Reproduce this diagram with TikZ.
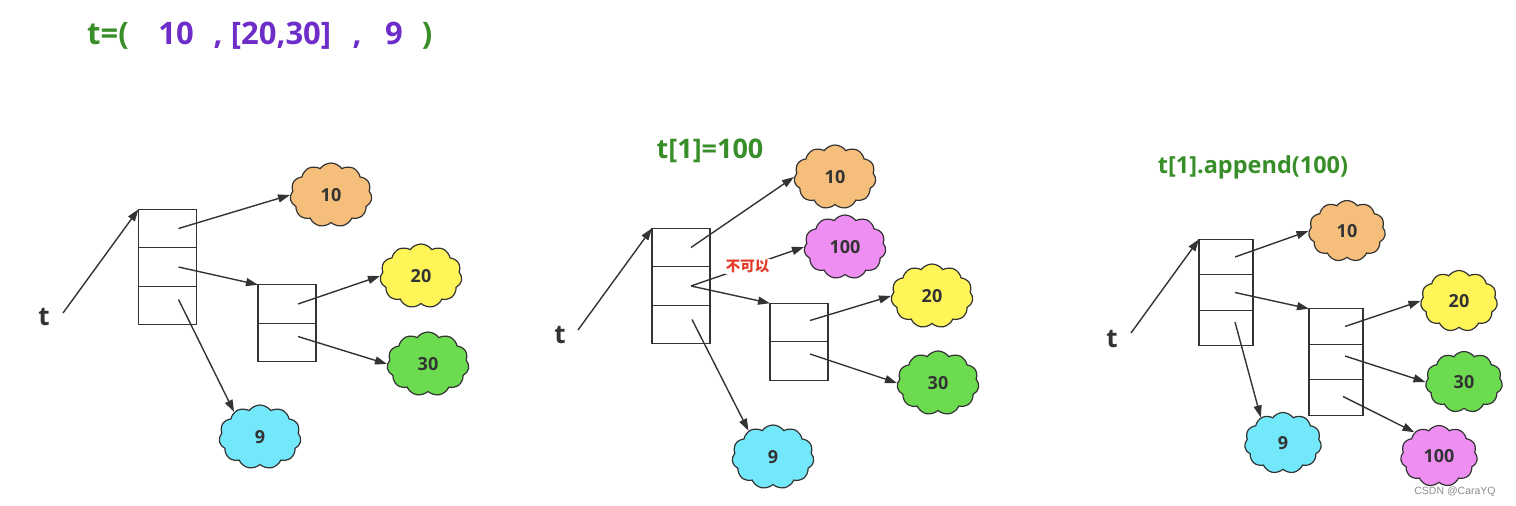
\documentclass[tikz,border=0pt]{standalone}
\usepackage{fontspec}
\setmainfont{Open Sans}
\newfontfamily\cjk{Noto Sans CJK SC}
\newfontfamily\wmfont{Liberation Sans}
\usepackage{tikz}
\usetikzlibrary{positioning,shapes.symbols,arrows.meta}

\definecolor{ink}{RGB}{51,51,51}
\definecolor{grn}{RGB}{56,142,40}
\definecolor{pur}{RGB}{110,45,200}
\definecolor{warn}{RGB}{228,60,42}
\definecolor{c10}{RGB}{245,191,123}
\definecolor{c20}{RGB}{255,245,88}
\definecolor{c30}{RGB}{108,219,80}
\definecolor{c9}{RGB}{114,232,250}
\definecolor{c100}{RGB}{239,142,242}

\tikzset{
	cell/.style={draw=ink, line width=1.4pt, minimum width=58pt, minimum height=38.5pt, inner sep=0pt, outer sep=0pt},
	smallcell/.style={cell, minimum width=54pt, minimum height=35.5pt},
	obj/.style={cloud, cloud puffs=11, cloud puff arc=110, aspect=1.3, draw=ink, line width=1.2pt,
		minimum width=82pt, minimum height=64pt, inner sep=0pt, text=ink,
		font=\fontsize{18}{20}\selectfont\bfseries},
	smallobj/.style={obj, minimum width=77pt, minimum height=61pt},
	arr/.style={-{Triangle[length=12pt,width=8pt]}, color=ink, line width=1.4pt},
	ttl/.style={anchor=base, inner sep=0pt, font=\fontsize{31}{36}\selectfont\bfseries},
	sub/.style={anchor=base, inner sep=0pt, text=grn, font=\fontsize{23.5}{27}\selectfont\bfseries},
	var/.style={anchor=base, inner sep=0pt, text=ink, font=\fontsize{26}{30}\selectfont\bfseries},
	nope/.style={fill=white, text=warn, inner sep=1pt, font=\cjk\bfseries\fontsize{14.5}{16}\selectfont},
	wm/.style={text=black!45, inner sep=0pt, font=\wmfont\fontsize{10.5}{12}\selectfont}
}

\begin{document}
\begin{tikzpicture}[x=1pt, y=-1pt]
	\useasboundingbox (0,0) rectangle (1516,506);

	% the tuple
	\node[ttl, text=grn] (q0) at (108,44) {t=(};
	\node[ttl, text=pur] (q1) at (176,44) {10};
	\node[ttl, text=pur] (q2) at (218,44) {,};
	\node[ttl, text=pur] (q3) at (281,44) {[20,30]};
	\node[ttl, text=pur] (q4) at (357,44) {,};
	\node[ttl, text=pur] (q5) at (394,44) {9};
	\node[ttl, text=grn] (q6) at (427,44) {)};

	% left: t as built
	\node[var] (lt) at (44,325) {t};
	\coordinate (ls) at (63,313);
	\node[cell] (la1) at (167.5,228.5) {};
	\node[cell, below=0pt of la1] (la2) {};
	\node[cell, below=0pt of la2] (la3) {};
	\node[cell] (lb1) at (287,304) {};
	\node[cell, below=0pt of lb1] (lb2) {};
	\node[obj, fill=c10] (l10) at (331,195) {10};
	\node[obj, fill=c20] (l20) at (421,276) {20};
	\node[obj, fill=c30] (l30) at (428,364) {30};
	\node[obj, fill=c9] (l9) at (260,437) {9};
	\path[arr]
	(ls) edge (la1.north west)
	([xshift=11pt]la1.center) edge (l10.west)
	([xshift=11pt]la2.center) edge (lb1.north west)
	([xshift=11pt,yshift=6pt]la3.center) edge (l9.136)
	([xshift=11pt]lb1.center) edge (l20.west)
	([xshift=11pt,yshift=6pt]lb2.center) edge (l30.west);

	% middle: t[1]=100
	\node[sub, font=\fontsize{27}{31}\selectfont\bfseries] (mh) at (710,158) {t[1]=100};
	\node[var] (mt) at (560,343) {t};
	\coordinate (ms) at (578,330);
	\node[cell] (ma1) at (681,247.5) {};
	\node[cell, below=0pt of ma1] (ma2) {};
	\node[cell, below=0pt of ma2] (ma3) {};
	\node[cell] (mb1) at (799,322.5) {};
	\node[cell, below=0pt of mb1] (mb2) {};
	\node[obj, fill=c10] (m10) at (835,177) {10};
	\node[obj, fill=c100] (m100) at (845,247) {100};
	\node[obj, fill=c20] (m20) at (932,296) {20};
	\node[obj, fill=c30] (m30) at (938,383) {30};
	\node[obj, fill=c9] (m9) at (773,457) {9};
	\path[arr]
	(ms) edge (ma1.north west)
	([xshift=10pt]ma1.center) edge (m10.west)
	([xshift=10pt]ma2.center) edge node[nope] {不可以} (m100.west)
	([xshift=10pt]ma2.center) edge (mb1.north west)
	([xshift=11pt,yshift=5pt]ma3.center) edge (m9.133)
	([xshift=11pt,yshift=2pt]mb1.center) edge (m20.west)
	([xshift=11pt,yshift=7pt]mb2.center) edge (m30.west);

	% right: t[1].append(100)
	\node[sub] (rh) at (1253,173) {t[1].append(100)};
	\node[var] (rt) at (1112,347) {t};
	\coordinate (rs) at (1131,333);
	\node[smallcell] (ra1) at (1226,257) {};
	\node[smallcell, below=0pt of ra1] (ra2) {};
	\node[smallcell, below=0pt of ra2] (ra3) {};
	\node[smallcell] (rb1) at (1336,326.5) {};
	\node[smallcell, below=0pt of rb1] (rb2) {};
	\node[smallcell, below=0pt of rb2] (rb3) {};
	\node[smallobj, fill=c10] (r10) at (1347,231) {10};
	\node[smallobj, fill=c20] (r20) at (1459,301) {20};
	\node[smallobj, fill=c30] (r30) at (1464,382) {30};
	\node[smallobj, fill=c100] (r100) at (1439,456) {100};
	\node[smallobj, fill=c9] (r9) at (1283,443) {9};
	\path[arr]
	(rs) edge (ra1.north west)
	([xshift=9pt]ra1.center) edge (r10.west)
	([xshift=9pt]ra2.center) edge (rb1.north west)
	([xshift=9pt,yshift=6pt]ra3.center) edge (r9.131)
	([xshift=9pt]rb1.center) edge (r20.west)
	([xshift=9pt,yshift=6pt]rb2.center) edge (r30.west)
	([xshift=7pt,yshift=1pt]rb3.center) edge (r100.136);

	\node[wm] (mark) at (1455,492) {CSDN @CaraYQ};
\end{tikzpicture}
\end{document}
